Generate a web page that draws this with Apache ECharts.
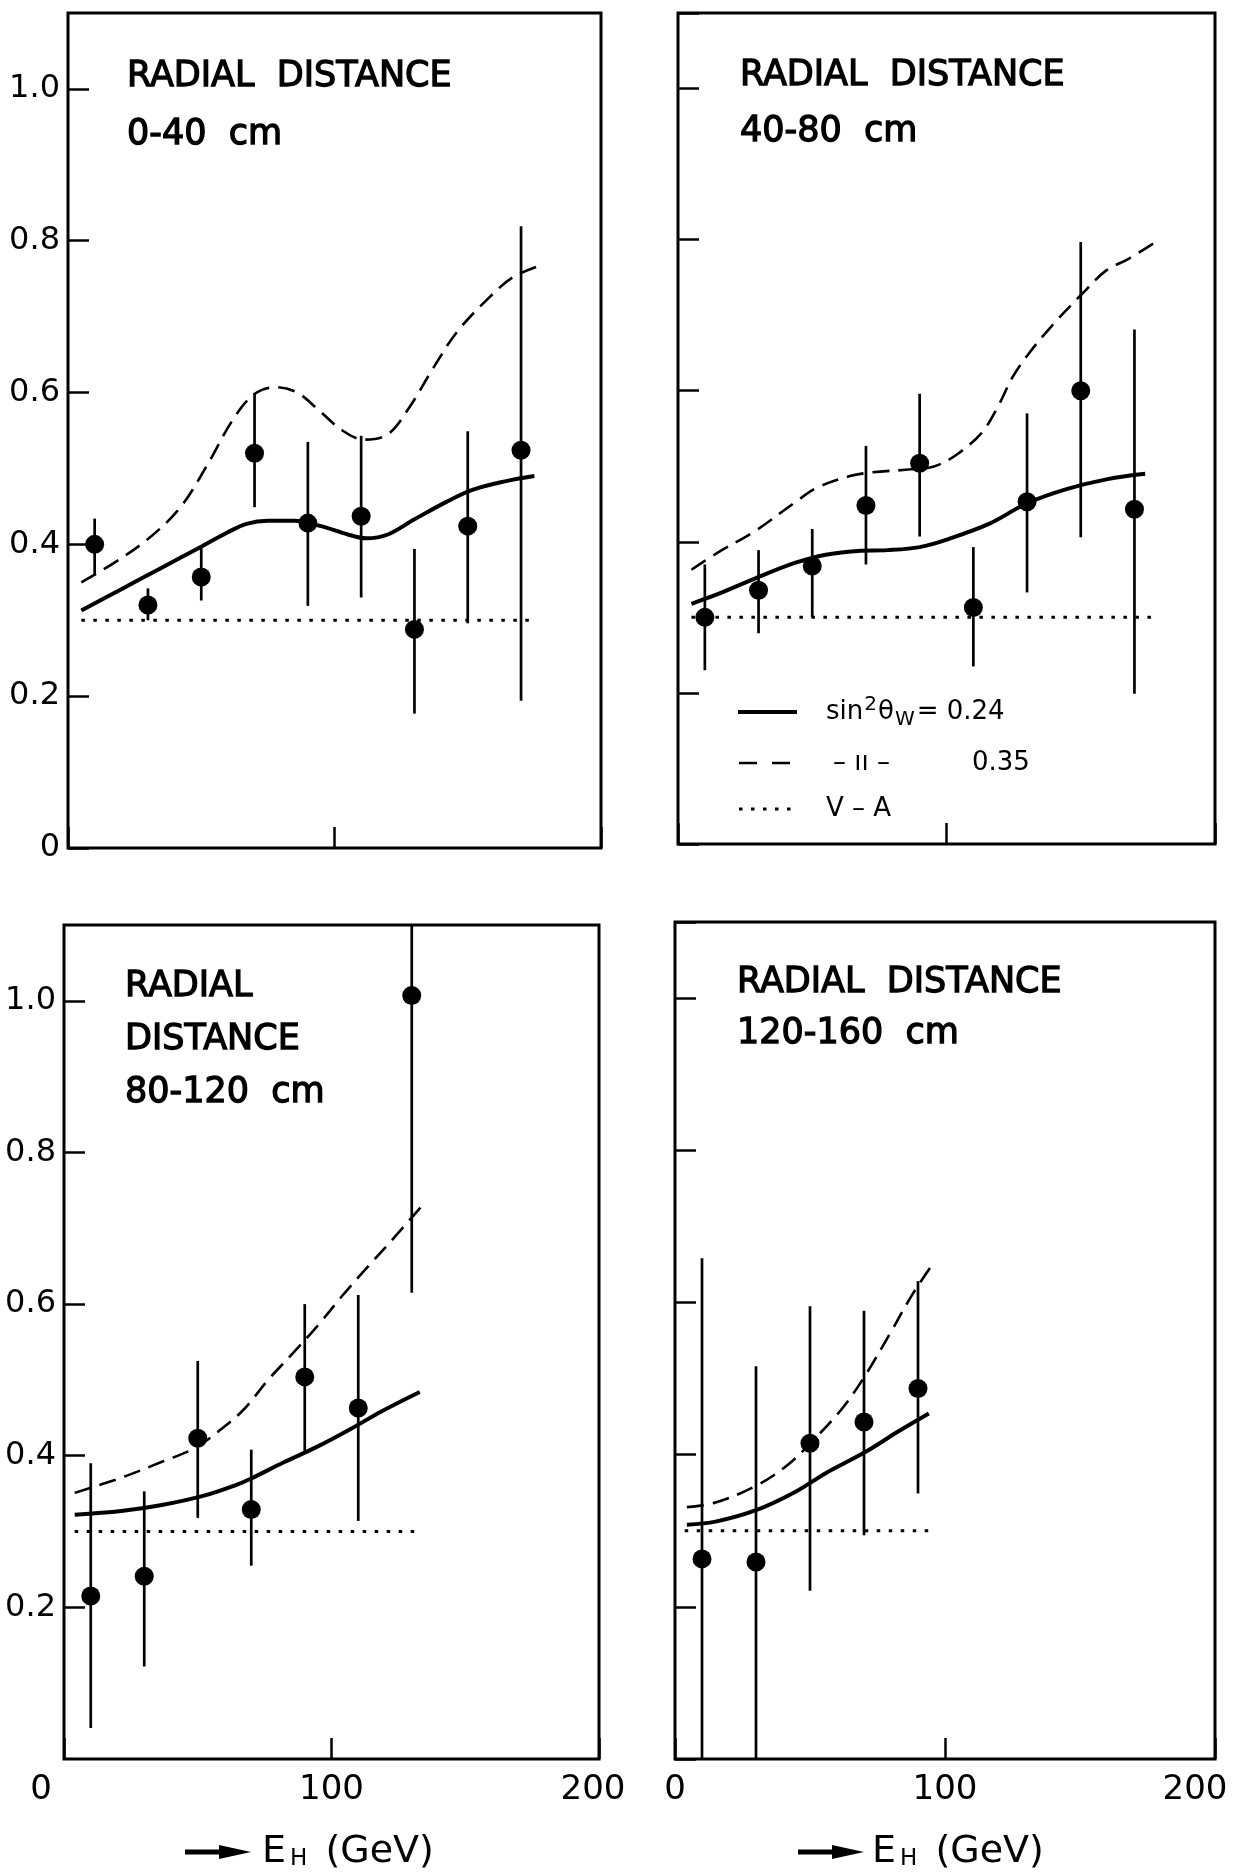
<!DOCTYPE html>
<html>
<head>
<meta charset="utf-8">
<script src="https://cdn.jsdelivr.net/npm/echarts@6/dist/echarts.min.js"></script>
<style>
  html, body { margin: 0; padding: 0; background: #fff; }
  #chart { width: 1250px; height: 1872px; }
</style>
</head>
<body>
<div id="chart"></div>
<script>
// ---- measured ratios versus hadron energy E_H (GeV), four radial bins ----
const panelTitles = ['RADIAL  DISTANCE\n0-40  cm', 'RADIAL  DISTANCE\n40-80  cm',
                     'RADIAL\nDISTANCE\n80-120  cm', 'RADIAL  DISTANCE\n120-160  cm'];
const yTickLabels = ['0', '0.2', '0.4', '0.6', '0.8', '1.0'];
const xTickLabels = ['0', '100', '200'];

// 0-40 cm
const e_0_40   = [10, 30, 50, 70, 90, 110, 130, 150, 170];
const val_0_40 = [0.40, 0.32, 0.357, 0.52, 0.428, 0.437, 0.288, 0.424, 0.524];
const lo_0_40  = [0.359, 0.30, 0.326, 0.449, 0.319, 0.33, 0.177, 0.296, 0.194];
const hi_0_40  = [0.434, 0.342, 0.396, 0.599, 0.535, 0.543, 0.394, 0.549, 0.819];
const solidE_0_40 = [5, 20, 35, 50, 60, 67, 75, 85, 95, 105, 112, 120, 130, 142, 152, 164, 175];
const solidR_0_40 = [0.313, 0.341, 0.369, 0.397, 0.416, 0.427, 0.431, 0.431, 0.424, 0.413, 0.408, 0.413, 0.433, 0.456, 0.472, 0.483, 0.49];
const dashE_0_40 = [5, 17, 30, 42, 52, 62, 70, 78, 86, 94, 103, 111, 120, 128, 137, 146, 158, 167, 177];
const dashR_0_40 = [0.35, 0.375, 0.407, 0.448, 0.503, 0.565, 0.598, 0.607, 0.60, 0.577, 0.550, 0.538, 0.545, 0.58, 0.632, 0.68, 0.725, 0.752, 0.767];
const vaE_0_40 = [5, 176];

// 40-80 cm
const e_40_80   = [10, 30, 50, 70, 90, 110, 130, 150, 170];
const val_40_80 = [0.30, 0.336, 0.368, 0.448, 0.504, 0.313, 0.453, 0.60, 0.443];
const lo_40_80  = [0.23, 0.279, 0.30, 0.37, 0.407, 0.235, 0.333, 0.406, 0.199];
const hi_40_80  = [0.37, 0.389, 0.417, 0.527, 0.596, 0.393, 0.57, 0.797, 0.681];
const solidE_40_80 = [5, 15, 29, 43.5, 55, 67, 78, 90, 101, 116, 130, 145, 160, 174];
const solidR_40_80 = [0.318, 0.331, 0.352, 0.372, 0.383, 0.388, 0.389, 0.393, 0.404, 0.424, 0.451, 0.47, 0.483, 0.49];
const dashE_40_80 = [5, 14.5, 29, 43.5, 52, 64, 72.5, 87, 95.6, 104, 113, 119, 124.6, 130.4, 139, 150.7, 159.4, 168, 178];
const dashR_40_80 = [0.363, 0.385, 0.415, 0.452, 0.472, 0.487, 0.492, 0.496, 0.50, 0.516, 0.544, 0.578, 0.618, 0.648, 0.685, 0.729, 0.759, 0.775, 0.797];
const vaE_40_80 = [5, 177];

// 80-120 cm
const e_80_120   = [10, 30, 50, 70, 90, 110, 130];
const val_80_120 = [0.215, 0.241, 0.423, 0.329, 0.504, 0.463, 1.007];
const lo_80_120  = [0.041, 0.122, 0.318, 0.255, 0.404, 0.314, 0.615];
const hi_80_120  = [0.39, 0.353, 0.525, 0.408, 0.60, 0.612, 1.2];
const solidE_80_120 = [4, 21.4, 36.6, 52, 64, 70, 82, 94.7, 107, 119, 133];
const solidR_80_120 = [0.322, 0.327, 0.335, 0.347, 0.361, 0.37, 0.391, 0.412, 0.435, 0.459, 0.484];
const dashE_80_120 = [4, 21.4, 36.6, 48.9, 58, 67.2, 76.3, 85.5, 94.7, 103.8, 113, 122, 134.4];
const dashR_80_120 = [0.351, 0.371, 0.392, 0.41, 0.433, 0.461, 0.50, 0.535, 0.571, 0.61, 0.647, 0.682, 0.732];
const vaE_80_120 = [4, 132];

// 120-160 cm
const e_120_160   = [10, 30, 50, 70, 90];
const val_120_160 = [0.263, 0.259, 0.415, 0.443, 0.487];
const lo_120_160  = [0.0, 0.0, 0.221, 0.294, 0.349];
const hi_120_160  = [0.658, 0.516, 0.595, 0.589, 0.628];
const solidE_120_160 = [4.4, 15, 30, 44.5, 56, 70.8, 82.5, 94];
const solidR_120_160 = [0.308, 0.312, 0.327, 0.351, 0.376, 0.404, 0.43, 0.454];
const dashE_120_160 = [4.4, 15, 30, 41.6, 50.4, 62, 70.8, 79.6, 88, 95];
const dashR_120_160 = [0.331, 0.337, 0.359, 0.386, 0.416, 0.461, 0.506, 0.559, 0.611, 0.648];
const vaE_120_160 = [3.6, 94];

const vaRatio = 0.30;

const panels = [
  { e: e_0_40, v: val_0_40, lo: lo_0_40, hi: hi_0_40, sE: solidE_0_40, sR: solidR_0_40, dE: dashE_0_40, dR: dashR_0_40, va: vaE_0_40 },
  { e: e_40_80, v: val_40_80, lo: lo_40_80, hi: hi_40_80, sE: solidE_40_80, sR: solidR_40_80, dE: dashE_40_80, dR: dashR_40_80, va: vaE_40_80 },
  { e: e_80_120, v: val_80_120, lo: lo_80_120, hi: hi_80_120, sE: solidE_80_120, sR: solidR_80_120, dE: dashE_80_120, dR: dashR_80_120, va: vaE_80_120 },
  { e: e_120_160, v: val_120_160, lo: lo_120_160, hi: hi_120_160, sE: solidE_120_160, sR: solidR_120_160, dE: dashE_120_160, dR: dashR_120_160, va: vaE_120_160 }
];

// ---- layout ----
const FONT = "'DejaVu Sans', 'Noto Sans', sans-serif";
const INK = '#000';
const grids = [
  { left: 68,  top: 13,  width: 533, height: 835 },
  { left: 678, top: 13,  width: 537, height: 831 },
  { left: 64,  top: 925, width: 535, height: 834 },
  { left: 675, top: 922, width: 540, height: 837 }
];
const titlePos = [
  { left: 127, top: 48, lh: 58 },
  { left: 740, top: 48, lh: 56 },
  { left: 125, top: 960, lh: 53 },
  { left: 737, top: 957, lh: 51 }
];

const zip = (a, b) => a.map((x, i) => [x, b[i]]);

function yLabel(v) {
  const k = Math.round(v * 5);
  if (Math.abs(v * 5 - k) > 1e-6 || k > 5) return '';
  return yTickLabels[k];
}

function xLabelFor(panelIdx) {
  return function (v) {
    const k = Math.round(v / 100);
    if (Math.abs(v - k * 100) > 1e-6) return '';
    const t = xTickLabels[k];
    if (k === 0 && panelIdx === 2) return '{l0|' + t + '}';
    if (k === 2 && panelIdx === 2) return '{r1|' + t + '}';
    if (k === 2 && panelIdx === 3) return '{r2|' + t + '}';
    return t;
  };
}

function renderErr(params, api) {
  const x = api.value(0);
  const pTop = api.coord([x, api.value(2)]);
  const pBot = api.coord([x, api.value(1)]);
  const cs = params.coordSys;
  const y1 = Math.max(pTop[1], cs.y);
  const y2 = Math.min(pBot[1], cs.y + cs.height);
  return {
    type: 'line',
    shape: { x1: pTop[0], y1: y1, x2: pTop[0], y2: y2 },
    style: { stroke: INK, lineWidth: 2.7 }
  };
}

const xAxes = [], yAxes = [], series = [], titles = [];
panels.forEach((p, i) => {
  const bottomRow = i >= 2;
  const leftCol = i % 2 === 0;
  const xLabelSize = 34;
  xAxes.push({
    gridIndex: i, type: 'value', min: 0, max: 200, interval: 100,
    axisLine: { show: false },
    splitLine: { show: false },
    axisTick: { show: true, inside: true, length: 21, lineStyle: { color: INK, width: 2.5 } },
    axisLabel: {
      show: bottomRow, margin: 14, color: INK, fontFamily: FONT, fontSize: xLabelSize,
      formatter: xLabelFor(i),
      rich: {
        l0: { fontFamily: FONT, fontSize: xLabelSize, color: INK, padding: [0, 46, 0, 0] },
        r1: { fontFamily: FONT, fontSize: xLabelSize, color: INK, padding: [0, 12, 0, 0] },
        r2: { fontFamily: FONT, fontSize: xLabelSize, color: INK, padding: [0, 40, 0, 0] }
      }
    }
  });
  yAxes.push({
    gridIndex: i, type: 'value', min: 0, max: 1.1, interval: 0.2,
    axisLine: { show: false },
    splitLine: { show: false },
    axisTick: { show: true, inside: true, length: 21, lineStyle: { color: INK, width: 2.5 } },
    axisLabel: {
      show: leftCol, margin: 8, color: INK, fontFamily: FONT, fontSize: 32,
      showMaxLabel: false,
      showMinLabel: !(i === 2),
      formatter: yLabel
    }
  });
  titles.push({
    text: panelTitles[i], left: titlePos[i].left, top: titlePos[i].top, padding: 0,
    textStyle: {
      fontFamily: FONT, fontSize: 35, fontWeight: 'normal', color: INK,
      lineHeight: titlePos[i].lh, textBorderColor: INK, textBorderWidth: 1.3
    }
  });
  series.push({
    name: 'sin²θw = 0.24', type: 'line', xAxisIndex: i, yAxisIndex: i,
    data: zip(p.sE, p.sR), smooth: 0.35, symbol: 'none', z: 3,
    lineStyle: { color: INK, width: 4 }
  });
  series.push({
    name: 'sin²θw = 0.35', type: 'line', xAxisIndex: i, yAxisIndex: i,
    data: zip(p.dE, p.dR), smooth: 0.35, symbol: 'none', z: 3,
    lineStyle: { color: INK, width: 2.6, type: [17, 9] }
  });
  series.push({
    name: 'V-A', type: 'line', xAxisIndex: i, yAxisIndex: i,
    data: p.va.map(x => [x, vaRatio]), symbol: 'none', z: 2,
    lineStyle: { color: INK, width: 3, type: [3.5, 8.5] }
  });
  series.push({
    name: 'errors', type: 'custom', xAxisIndex: i, yAxisIndex: i,
    data: p.e.map((x, k) => [x, p.lo[k], p.hi[k]]),
    encode: { x: 0, y: [1, 2] },
    renderItem: renderErr, z: 4
  });
  series.push({
    name: 'data', type: 'scatter', xAxisIndex: i, yAxisIndex: i,
    data: zip(p.e, p.v), symbol: 'circle', symbolSize: 19, z: 5,
    itemStyle: { color: INK, opacity: 1 }
  });
});

// legend of the three predictions (upper right panel)
const legendText = { fontFamily: FONT, fontSize: 26, fill: INK };
const legendGraphics = [
  { type: 'line', shape: { x1: 738, y1: 712, x2: 797, y2: 712 }, style: { stroke: INK, lineWidth: 4 } },
  { type: 'line', shape: { x1: 739, y1: 763, x2: 792, y2: 763 }, style: { stroke: INK, lineWidth: 2.6, lineDash: [18, 15] } },
  { type: 'line', shape: { x1: 739, y1: 809, x2: 796, y2: 809 }, style: { stroke: INK, lineWidth: 3, lineDash: [3.5, 8.5] } },
  { type: 'text', x: 826, y: 712, style: Object.assign({
      text: 'sin{sup|2}θ{sub|W}= 0.24', verticalAlign: 'middle',
      rich: {
        sup: { fontFamily: FONT, fontSize: 20, fill: INK, padding: [0, 1, 14, 1] },
        sub: { fontFamily: FONT, fontSize: 20, fill: INK, padding: [16, 2, 0, 1] }
      } }, legendText) },
  { type: 'text', x: 833, y: 763, style: Object.assign({ text: '– ıı –', verticalAlign: 'middle' }, legendText) },
  { type: 'text', x: 972, y: 763, style: Object.assign({ text: '0.35', verticalAlign: 'middle' }, legendText) },
  { type: 'text', x: 826, y: 809, style: Object.assign({ text: 'V – A', verticalAlign: 'middle' }, legendText) }
];

// horizontal-axis captions with arrows under the lower panels
function axisCaption(x0, textX) {
  return [
    { type: 'line', shape: { x1: x0, y1: 1852, x2: x0 + 40, y2: 1852 }, style: { stroke: INK, lineWidth: 5 } },
    { type: 'polygon', shape: { points: [[x0 + 34, 1845], [x0 + 66, 1852], [x0 + 34, 1859]] }, style: { fill: INK } },
    { type: 'text', x: textX, y: 1852, style: {
        text: 'E{sub|H} (GeV)', fontFamily: FONT, fontSize: 38, fill: INK, verticalAlign: 'middle',
        rich: { sub: { fontFamily: FONT, fontSize: 23, fill: INK, padding: [15, 6, 0, 4] } }
      } }
  ];
}

const chart = echarts.init(document.getElementById('chart'), null, { renderer: 'canvas' });
chart.setOption({
  animation: false,
  backgroundColor: '#fff',
  title: titles,
  grid: grids.map(g => Object.assign({ show: true, borderColor: INK, borderWidth: 3, backgroundColor: 'transparent', containLabel: false }, g)),
  xAxis: xAxes,
  yAxis: yAxes,
  series: series,
  graphic: [].concat(legendGraphics, axisCaption(185, 262), axisCaption(798, 872))
});
</script>
</body>
</html>
